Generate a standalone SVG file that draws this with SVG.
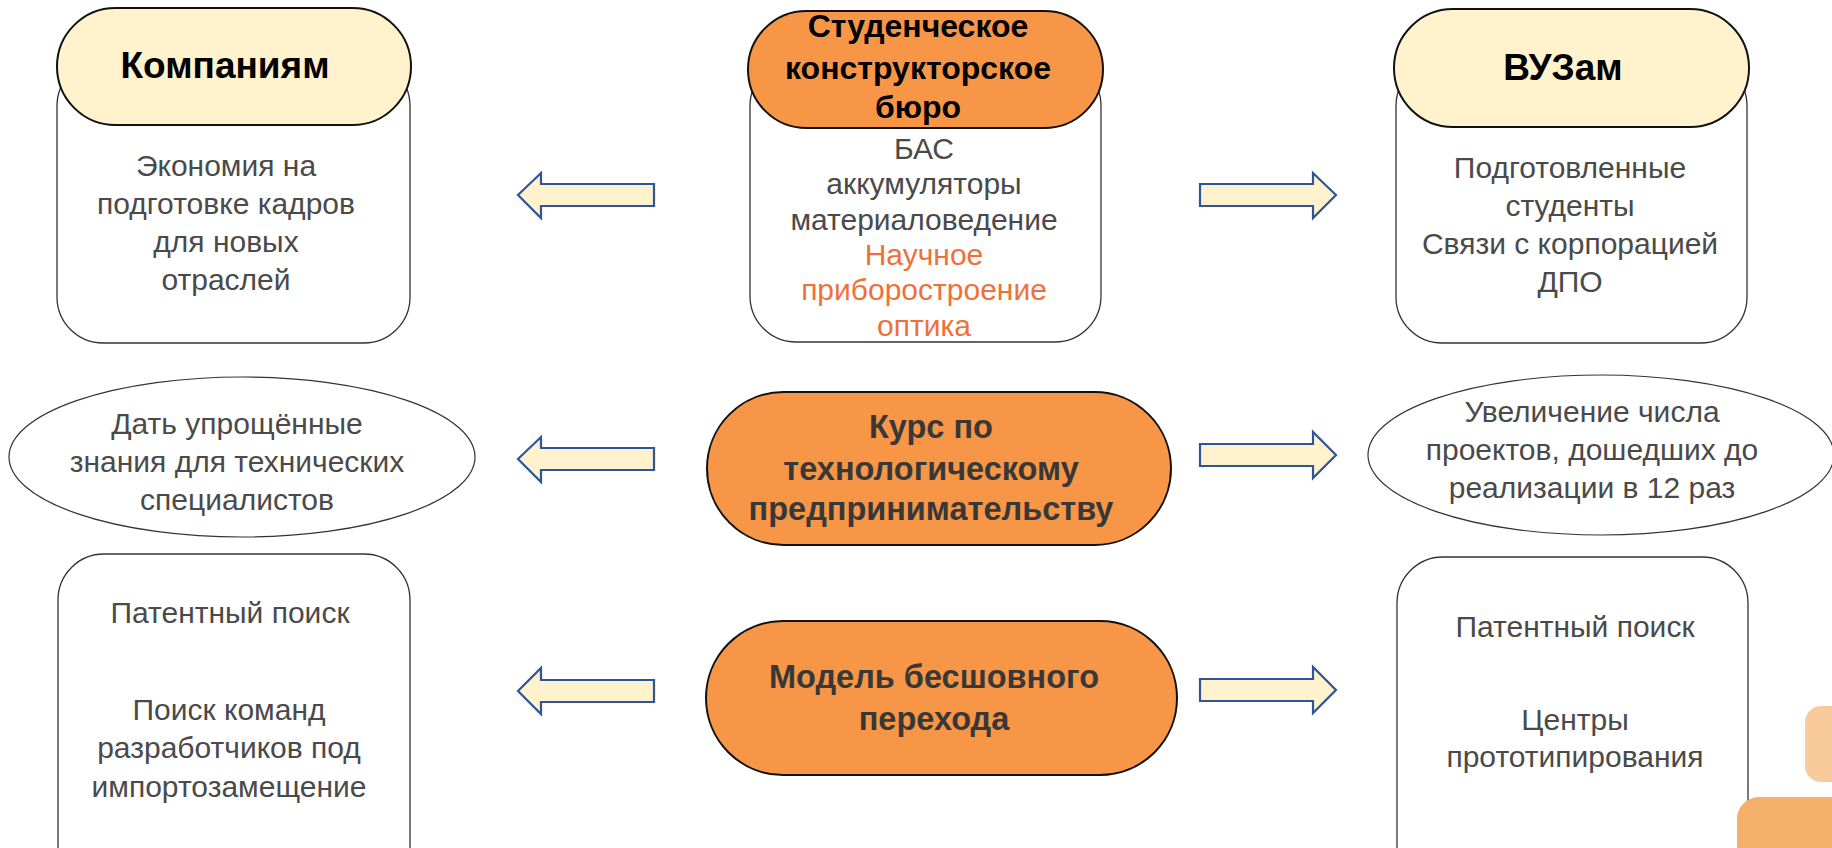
<svg xmlns="http://www.w3.org/2000/svg" width="1832" height="848" viewBox="0 0 1832 848">
<style>
.body{fill:#fff;stroke:#333;stroke-width:1.3}
.pillY{fill:#FFF2CC;stroke:#111;stroke-width:2}
.pillO{fill:#F79646;stroke:#111;stroke-width:2}
.ell{fill:#fff;stroke:#333;stroke-width:1.2}
.arr{fill:#FFF2CC;stroke:#2F5597;stroke-width:2.2;stroke-linejoin:miter}
text{font-family:"Liberation Sans",Arial,sans-serif;text-anchor:middle}
.t{font-size:30px;fill:#4a4a4a}
.o{font-size:30px;fill:#F0703A}
.h{font-size:37px;font-weight:bold;fill:#000}
.hs{font-size:32px;font-weight:bold;fill:#000}
.hg{font-size:32.5px;font-weight:bold;fill:#383838}
</style>
<rect width="1832" height="848" fill="#fff"/>
<g id="companies">
<rect class="body" x="57" y="60" width="353" height="283" rx="46" ry="46"/>
<rect class="pillY" x="57" y="8" width="354" height="117" rx="58.5" ry="58.5"/>
<text class="h" x="225" y="78">Компаниям</text>
<text class="t" x="226" y="176">Экономия на</text>
<text class="t" x="226" y="214">подготовке кадров</text>
<text class="t" x="226" y="252">для новых</text>
<text class="t" x="226" y="290">отраслей</text>
</g>
<g id="skb">
<rect class="body" x="750" y="60" width="351" height="282" rx="46" ry="46"/>
<rect class="pillO" x="748" y="11" width="355" height="117" rx="58.5" ry="58.5"/>
<text class="hs" x="918" y="37">Студенческое</text>
<text class="hs" x="918" y="79">конструкторское</text>
<text class="hs" x="918" y="118">бюро</text>
<text class="t" x="924" y="159">БАС</text>
<text class="t" x="924" y="194">аккумуляторы</text>
<text class="t" x="924" y="230">материаловедение</text>
<text class="o" x="924" y="265">Научное</text>
<text class="o" x="924" y="300">приборостроение</text>
<text class="o" x="924" y="336">оптика</text>
</g>
<g id="vuz">
<rect class="body" x="1396" y="60" width="351" height="283" rx="46" ry="46"/>
<rect class="pillY" x="1394" y="9" width="355" height="118" rx="59" ry="59"/>
<text class="h" x="1563" y="80">ВУЗам</text>
<text class="t" x="1570" y="178">Подготовленные</text>
<text class="t" x="1570" y="216">студенты</text>
<text class="t" x="1570" y="254">Связи с корпорацией</text>
<text class="t" x="1570" y="292">ДПО</text>
</g>
<g id="simplified-knowledge">
<ellipse class="ell" cx="242" cy="457" rx="233" ry="80"/>
<text class="t" x="237" y="434">Дать упрощённые</text>
<text class="t" x="237" y="472">знания для технических</text>
<text class="t" x="237" y="510">специалистов</text>
</g>
<g id="course">
<rect class="pillO" x="707" y="392" width="464" height="153" rx="76.5" ry="76.5"/>
<text class="hg" x="931" y="438">Курс по</text>
<text class="hg" x="931" y="480">технологическому</text>
<text class="hg" x="931" y="520">предпринимательству</text>
</g>
<g id="projects">
<ellipse class="ell" cx="1601" cy="455" rx="233" ry="80"/>
<text class="t" x="1592" y="422">Увеличение числа</text>
<text class="t" x="1592" y="460">проектов, дошедших до</text>
<text class="t" x="1592" y="498">реализации в 12 раз</text>
</g>
<g id="companies-search">
<rect class="body" x="58" y="554" width="352" height="340" rx="46" ry="46"/>
<text class="t" x="230" y="623">Патентный поиск</text>
<text class="t" x="229" y="720">Поиск команд</text>
<text class="t" x="229" y="758">разработчиков под</text>
<text class="t" x="229" y="797">импортозамещение</text>
</g>
<g id="model">
<rect class="pillO" x="706" y="621" width="471" height="154" rx="77" ry="77"/>
<text class="hg" x="934" y="688">Модель бесшовного</text>
<text class="hg" x="934" y="730">перехода</text>
</g>
<g id="vuz-search">
<rect class="body" x="1397" y="557" width="351" height="340" rx="46" ry="46"/>
<text class="t" x="1575" y="637">Патентный поиск</text>
<text class="t" x="1575" y="730">Центры</text>
<text class="t" x="1575" y="767">прототипирования</text>
</g>
<g id="connectors">
<path class="arr" d="M518,195 L541,173 L541,184 L654,184 L654,206 L541,206 L541,218 Z"/>
<path class="arr" d="M518,459 L541,437 L541,448 L654,448 L654,470 L541,470 L541,482 Z"/>
<path class="arr" d="M518,691 L541,668 L541,680 L654,680 L654,702 L541,702 L541,714 Z"/>
<path class="arr" d="M1336,195 L1313,173 L1313,184 L1200,184 L1200,206 L1313,206 L1313,218 Z"/>
<path class="arr" d="M1336,455 L1313,432 L1313,444 L1200,444 L1200,466 L1313,466 L1313,478 Z"/>
<path class="arr" d="M1336,690 L1313,667 L1313,679 L1200,679 L1200,701 L1313,701 L1313,713 Z"/>
</g>
<g id="decor">
<rect x="1805" y="706" width="60" height="76" rx="16" ry="16" fill="#F9CB9C"/>
<rect x="1737" y="797" width="130" height="90" rx="22" ry="22" fill="#F5B06B"/>
</g>
</svg>
